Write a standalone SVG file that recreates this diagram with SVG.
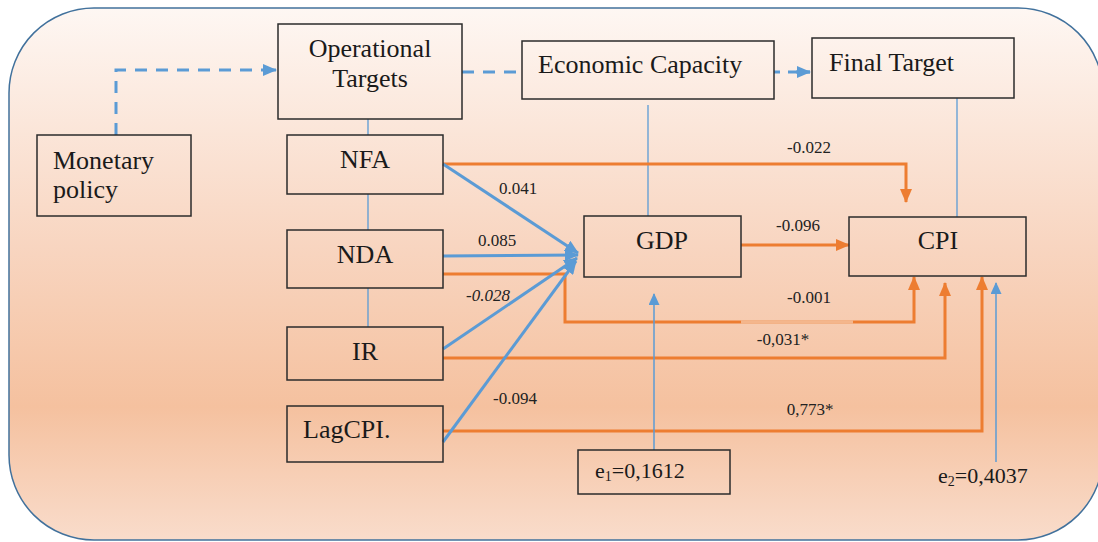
<svg xmlns="http://www.w3.org/2000/svg" width="1098" height="542" viewBox="0 0 1098 542">
<defs>
<linearGradient id="bg" x1="0" y1="0" x2="0" y2="1">
<stop offset="0" stop-color="#fef7f3"/>
<stop offset="0.45" stop-color="#f8d5c0"/>
<stop offset="0.75" stop-color="#f5c19f"/>
<stop offset="1" stop-color="#f9dccb"/>
</linearGradient>
<marker id="ao" markerUnits="userSpaceOnUse" markerWidth="14" markerHeight="12" refX="13" refY="6" orient="auto"><path d="M0,0 L14,6 L0,12 z" fill="#ed7d31"/></marker>
<marker id="ab" markerUnits="userSpaceOnUse" markerWidth="14" markerHeight="12" refX="13" refY="6" orient="auto"><path d="M0,0 L14,6 L0,12 z" fill="#5b9bd5"/></marker>
<marker id="abt" markerUnits="userSpaceOnUse" markerWidth="12" markerHeight="11" refX="11" refY="5.5" orient="auto"><path d="M0,0 L12,5.5 L0,11 z" fill="#5b9bd5"/></marker>
</defs>
<style>
.box{fill:none;stroke:#2b2b2b;stroke-width:1.5}
.t{font-family:"Liberation Serif","DejaVu Serif","Times New Roman",serif;font-size:26px;fill:#1a1a1a}
.e{font-family:"Liberation Serif","DejaVu Serif","Times New Roman",serif;font-size:22px;fill:#1a1a1a}
.l{font-family:"Liberation Serif","DejaVu Serif","Times New Roman",serif;font-size:17px;fill:#222}
.or{fill:none;stroke:#ed7d31;stroke-width:3;marker-end:url(#ao)}
.bl{fill:none;stroke:#5b9bd5;stroke-width:3;marker-end:url(#ab)}
.da{fill:none;stroke:#5b9bd5;stroke-width:3;stroke-dasharray:12 9}
.th{fill:none;stroke:#5b9bd5;stroke-width:1.3}
.tha{fill:none;stroke:#5b9bd5;stroke-width:1.5;marker-end:url(#abt)}
</style>
<rect x="0" y="0" width="1098" height="542" fill="#ffffff"/>
<rect x="9" y="8" width="1094" height="532" rx="85" ry="85" fill="url(#bg)" stroke="#41719c" stroke-width="1.5"/>

<g id="connectors">
<path class="da" d="M116,135 V70 H262"/>
<path d="M262,70 H276" fill="none" stroke="#5b9bd5" stroke-width="3" marker-end="url(#ab)"/>
<path class="da" d="M462,72 H522"/>
<path d="M774,72 H780 M788,72 H810" fill="none" stroke="#5b9bd5" stroke-width="3"/>
<path d="M796,72 H810" fill="none" stroke="#5b9bd5" stroke-width="3" marker-end="url(#ab)"/>
<path class="th" d="M368,119 V135 M368,194 V230 M368,288 V327"/>
<path class="th" d="M648,105 V216"/>
<path class="th" d="M957,98 V217"/>
<path class="or" d="M443,164 H906 V202"/>
<path class="or" d="M741,245 H849"/>
<path class="or" d="M443,274 H565 V322 H914 V277"/>
<path d="M741,322 H853" fill="none" stroke="#f7cfb4" stroke-width="3" opacity="0.7"/>
<path class="or" d="M443,358 H945 V283"/>
<path class="or" d="M443,431 H982 V277"/>
<path class="bl" d="M443,164 L578,253"/>
<path class="bl" d="M443,256 L578,255"/>
<path class="bl" d="M443,349 L577,258"/>
<path class="bl" d="M443,442 L576,261"/>
<path class="tha" d="M654,450 V294"/>
<path class="tha" d="M996,462 V283"/>
<text class="l" x="518" y="194" text-anchor="middle">0.041</text>
<text class="l" x="497" y="246" text-anchor="middle">0.085</text>
<text class="l" x="488" y="301" text-anchor="middle" font-style="italic">-0.028</text>
<text class="l" x="515" y="404" text-anchor="middle">-0.094</text>
<text class="l" x="809" y="153" text-anchor="middle">-0.022</text>
<text class="l" x="798" y="231" text-anchor="middle">-0.096</text>
<text class="l" x="809" y="303" text-anchor="middle">-0.001</text>
<text class="l" x="783" y="345" text-anchor="middle">-0,031*</text>
<text class="l" x="810" y="415" text-anchor="middle">0,773*</text>
</g>

<g id="monetary-policy">
<rect class="box" x="37" y="135" width="154" height="81"/>
<text class="t" x="53" y="169">Monetary</text>
<text class="t" x="53" y="198">policy</text>
</g>
<g id="operational-targets">
<rect class="box" x="278" y="24" width="184" height="95"/>
<text class="t" x="370" y="57" text-anchor="middle">Operational</text>
<text class="t" x="370" y="87" text-anchor="middle">Targets</text>
</g>
<g id="economic-capacity">
<rect class="box" x="522" y="41" width="252" height="58"/>
<text class="t" x="538" y="73">Economic Capacity</text>
</g>
<g id="final-target">
<rect class="box" x="812" y="38" width="202" height="60"/>
<text class="t" x="829" y="71">Final Target</text>
</g>
<g id="nfa">
<rect class="box" x="287" y="135" width="156" height="59"/>
<text class="t" x="365" y="168" text-anchor="middle">NFA</text>
</g>
<g id="nda">
<rect class="box" x="287" y="230" width="156" height="58"/>
<text class="t" x="365" y="263" text-anchor="middle">NDA</text>
</g>
<g id="ir">
<rect class="box" x="287" y="327" width="156" height="53"/>
<text class="t" x="365" y="360" text-anchor="middle">IR</text>
</g>
<g id="lagcpi">
<rect class="box" x="287" y="406" width="156" height="56"/>
<text class="t" x="303" y="438">LagCPI.</text>
</g>
<g id="gdp">
<rect class="box" x="584" y="216" width="157" height="61"/>
<text class="t" x="662" y="249" text-anchor="middle">GDP</text>
</g>
<g id="cpi">
<rect class="box" x="849" y="217" width="177" height="59"/>
<text class="t" x="938" y="249" text-anchor="middle">CPI</text>
</g>
<g id="e1">
<rect class="box" x="578" y="450" width="152" height="44"/>
<text class="e" x="595" y="478">e<tspan font-size="14" dy="3">1</tspan><tspan dy="-3">=0,1612</tspan></text>
</g>
<g id="e2">
<text class="e" x="938" y="483">e<tspan font-size="14" dy="3">2</tspan><tspan dy="-3">=0,4037</tspan></text>
</g>
</svg>
